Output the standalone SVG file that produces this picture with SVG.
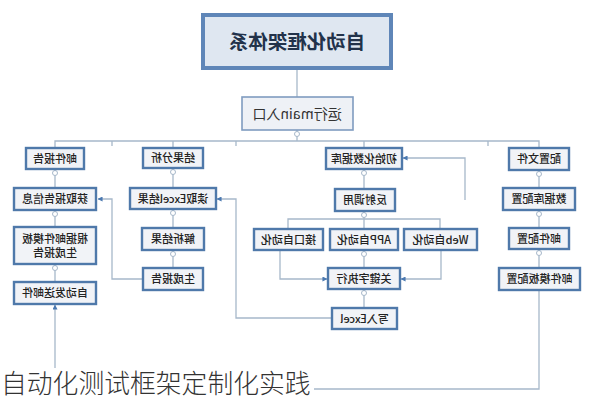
<svg xmlns="http://www.w3.org/2000/svg" width="594" height="400" viewBox="0 0 594 400">
<style>
.box{fill:#f1f3f7;stroke:#4f79aa;stroke-width:2.4}
.main{fill:#eef1f6;stroke:#7f9cc0;stroke-width:1.6}
.title{fill:#dfe7f1;stroke:#5f86b8;stroke-width:4}
.t{font-family:"Noto Sans CJK SC","Liberation Sans",sans-serif;font-size:11px;font-weight:500;fill:#222;text-anchor:middle}
.tt{font-family:"Noto Sans CJK SC","Liberation Sans",sans-serif;font-size:19.5px;font-weight:bold;fill:#22324a;text-anchor:middle}
.tm{font-family:"Noto Sans CJK SC","Liberation Sans",sans-serif;font-size:14px;fill:#333;text-anchor:middle}
.ln{fill:none;stroke:#a7b8ca;stroke-width:1.3}
.dot{fill:#fff;stroke:#a7b8ca;stroke-width:1}
.cap{font-family:"Noto Sans CJK SC","Liberation Sans",sans-serif;font-size:25.8px;font-weight:300;fill:#333}
</style>
<defs>
<marker id="arr" viewBox="0 0 6 6" refX="5.5" refY="3" markerWidth="5" markerHeight="5" orient="auto" markerUnits="userSpaceOnUse">
<path d="M0,0 L6,3 L0,6 Z" fill="#4a78b0"/>
</marker>
</defs>
<rect width="594" height="400" fill="#fff"/>
<g id="connectors">
<path class="ln" d="M297,70 V97"/>
<path class="ln" d="M297,130 V141"/>
<path class="ln" d="M55,148 V141 H539 V148"/>
<path class="ln" d="M173,141 V148 M364,141 V148"/>
<path class="ln" d="M112,141 V146 M236,141 V146 M488,141 V146"/>
<path class="ln" d="M55,169 V188 M55,210 V227 M55,264 V282"/>
<path class="ln" d="M173,168 V188 M173,209 V228 M173,250 V268"/>
<path class="ln" d="M539,170 V188 M539,210 V228 M539,249 V268"/>
<path class="ln" d="M364,169 V189 M364,211 V229 M288,229 V219 H440 V229"/>
<path class="ln" d="M364,250 V268 M364,289 V308"/>
<path class="ln" d="M280,250 V279 H327" marker-end="url(#arr)"/>
<path class="ln" d="M441,250 V279 H401" marker-end="url(#arr)"/>
<path class="ln" d="M465,200 V158 H403" marker-end="url(#arr)"/>
<path class="ln" d="M332,318 H236 V199 H217" marker-end="url(#arr)"/>
<path class="ln" d="M143,279 H112 V199 H98" marker-end="url(#arr)"/>
<path class="ln" d="M539,290 V389 H55 V305" marker-end="url(#arr)"/>
<circle class="dot" cx="297" cy="134" r="2.5"/>
<circle class="dot" cx="55" cy="173" r="2.5"/>
<circle class="dot" cx="55" cy="214" r="2.5"/>
<circle class="dot" cx="55" cy="268" r="2.5"/>
<circle class="dot" cx="173" cy="172" r="2.5"/>
<circle class="dot" cx="173" cy="213" r="2.5"/>
<circle class="dot" cx="173" cy="254" r="2.5"/>
<circle class="dot" cx="539" cy="174" r="2.5"/>
<circle class="dot" cx="539" cy="214" r="2.5"/>
<circle class="dot" cx="539" cy="253" r="2.5"/>
<circle class="dot" cx="364" cy="173" r="2.5"/>
<circle class="dot" cx="364" cy="215" r="2.5"/>
<circle class="dot" cx="364" cy="254" r="2.5"/>
<circle class="dot" cx="364" cy="293" r="2.5"/>
</g>
<g id="title"><rect class="title" x="203" y="15" width="188" height="53"/><text class="tt" x="297" y="49" transform="matrix(-1 0 0 1 594 0)">自动化框架体系</text></g>
<g id="main"><rect class="main" x="242" y="97" width="111" height="33"/><text class="tm" x="297" y="119" transform="matrix(-1 0 0 1 594 0)">运行main入口</text></g>
<g id="mailReport"><rect class="box" x="26" y="148" width="58" height="21"/><text class="t" x="55" y="162.5" transform="matrix(-1 0 0 1 110 0)">邮件报告</text></g>
<g id="getInfo"><rect class="box" x="14" y="188" width="82" height="22"/><text class="t" x="55" y="203" transform="matrix(-1 0 0 1 110 0)">获取报告信息</text></g>
<g id="genByTpl"><rect class="box" x="14" y="227" width="82" height="37"/><text class="t" x="55" y="243" transform="matrix(-1 0 0 1 110 0)">根据邮件模板</text><text class="t" x="55" y="257" transform="matrix(-1 0 0 1 110 0)">生成报告</text></g>
<g id="sendMail"><rect class="box" x="14" y="282" width="82" height="22"/><text class="t" x="55" y="297" transform="matrix(-1 0 0 1 110 0)">自动发送邮件</text></g>
<g id="analysis"><rect class="box" x="143" y="148" width="60" height="20"/><text class="t" x="173" y="162" transform="matrix(-1 0 0 1 346 0)">结果分析</text></g>
<g id="readExcel"><rect class="box" x="130" y="188" width="86" height="21"/><text class="t" x="173" y="202.5" transform="matrix(-1 0 0 1 346 0)">读取Excel结果</text></g>
<g id="parse"><rect class="box" x="142" y="228" width="62" height="22"/><text class="t" x="173" y="243" transform="matrix(-1 0 0 1 346 0)">解析结果</text></g>
<g id="genReport"><rect class="box" x="143" y="268" width="60" height="22"/><text class="t" x="173" y="283" transform="matrix(-1 0 0 1 346 0)">生成报告</text></g>
<g id="initDb"><rect class="box" x="326" y="148" width="76" height="21"/><text class="t" x="364" y="162.5" transform="matrix(-1 0 0 1 728 0)">初始化数据库</text></g>
<g id="reflect"><rect class="box" x="335" y="189" width="60" height="22"/><text class="t" x="365" y="204" transform="matrix(-1 0 0 1 730 0)">反射调用</text></g>
<g id="api"><rect class="box" x="254" y="229" width="69" height="21"/><text class="t" x="288.5" y="243.5" transform="matrix(-1 0 0 1 577 0)">接口自动化</text></g>
<g id="app"><rect class="box" x="330" y="229" width="68" height="21"/><text class="t" x="364" y="243.5" transform="matrix(-1 0 0 1 728 0)">APP自动化</text></g>
<g id="web"><rect class="box" x="404" y="229" width="73" height="21"/><text class="t" x="440.5" y="243.5" transform="matrix(-1 0 0 1 881 0)">Web自动化</text></g>
<g id="keyword"><rect class="box" x="328" y="268" width="72" height="21"/><text class="t" x="364" y="282.5" transform="matrix(-1 0 0 1 728 0)">关键字执行</text></g>
<g id="writeExcel"><rect class="box" x="332" y="308" width="65" height="21"/><text class="t" x="364.5" y="322.5" transform="matrix(-1 0 0 1 729 0)">写入Excel</text></g>
<g id="config"><rect class="box" x="509" y="148" width="60" height="22"/><text class="t" x="539" y="163" transform="matrix(-1 0 0 1 1078 0)">配置文件</text></g>
<g id="dbConfig"><rect class="box" x="503" y="188" width="72" height="22"/><text class="t" x="539" y="203" transform="matrix(-1 0 0 1 1078 0)">数据库配置</text></g>
<g id="mailConfig"><rect class="box" x="509" y="228" width="60" height="21"/><text class="t" x="539" y="242.5" transform="matrix(-1 0 0 1 1078 0)">邮件配置</text></g>
<g id="tplConfig"><rect class="box" x="499" y="268" width="81" height="22"/><text class="t" x="539.5" y="283" transform="matrix(-1 0 0 1 1079 0)">邮件模板配置</text></g>
<g id="caption"><rect x="0" y="368" width="314" height="32" fill="#fff"/><text class="cap" x="1" y="393">自动化测试框架定制化实践</text></g>
</svg>
